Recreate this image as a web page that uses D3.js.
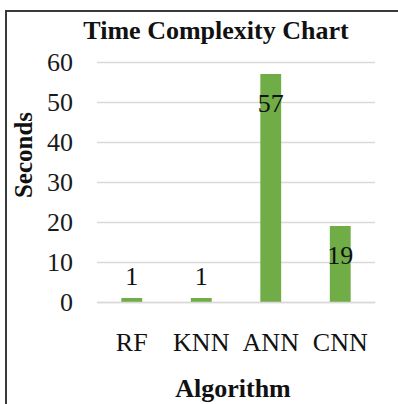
<!DOCTYPE html>
<html><head><meta charset="utf-8">
<script src="https://cdn.jsdelivr.net/npm/d3@7"></script>
<style>body{margin:0;background:#fff}svg{display:block}</style>
</head><body>
<svg id="c" width="398" height="404"></svg>
<script>
const categories = ["RF", "KNN", "ANN", "CNN"];
const seconds = [1, 1, 57, 19];
const yTicks = [0, 10, 20, 30, 40, 50, 60];
const title = "Time Complexity Chart";
const xTitle = "Algorithm";
const yTitle = "Seconds";

(function () {
const svg = d3.select("#c");
const font = "'Liberation Serif','Times New Roman',serif";
const pL = 97, pR = 375, pT = 62, pB = 302;
const fs = 26;

svg.append("rect").attr("x", 6).attr("y", 11).attr("width", 420).attr("height", 420)
  .attr("fill", "#fff").attr("stroke", "#3a3a3a").attr("stroke-width", 2);

const x = d3.scaleBand().domain(categories).range([pL, pR]).paddingInner(0.7).paddingOuter(0.35);
const y = d3.scaleLinear().domain([0, 60]).range([pB, pT]);

const yAxis = svg.append("g").attr("transform", `translate(${pL},0)`)
  .call(d3.axisLeft(y).tickValues(yTicks).tickSize(-(pR - pL)).tickPadding(24));
yAxis.select(".domain").remove();
yAxis.selectAll(".tick line").attr("stroke", "#d9d9d9").attr("stroke-width", 1.5);
yAxis.selectAll(".tick text").attr("font-family", font).attr("font-size", fs).attr("fill", "#1a1a1a");

svg.append("g").selectAll("rect").data(categories).join("rect")
  .attr("x", d => x(d)).attr("width", x.bandwidth())
  .attr("y", (d, i) => y(seconds[i])).attr("height", (d, i) => y(0) - y(seconds[i]))
  .attr("fill", "#70ad47");

svg.append("g").selectAll("text").data(categories).join("text")
  .attr("x", d => x(d) + x.bandwidth() / 2)
  .attr("y", (d, i) => {
    const h = y(0) - y(seconds[i]);
    return h > 40 ? y(seconds[i]) + 38 : y(seconds[i]) - 13;
  })
  .attr("text-anchor", "middle").attr("font-family", font).attr("font-size", fs).attr("fill", "#111")
  .text((d, i) => seconds[i]);

const xAxis = svg.append("g").attr("transform", `translate(0,${pB})`)
  .call(d3.axisBottom(x).tickSize(0).tickPadding(31));
xAxis.select(".domain").attr("stroke", "#d9d9d9").attr("stroke-width", 1.5);
xAxis.selectAll(".tick text").attr("font-family", font).attr("font-size", fs).attr("fill", "#111");

svg.append("text").attr("x", 216).attr("y", 39).attr("text-anchor", "middle")
  .attr("font-family", font).attr("font-weight", "bold").attr("font-size", fs).attr("fill", "#111")
  .text(title);
svg.append("text").attr("x", 233).attr("y", 397).attr("text-anchor", "middle")
  .attr("font-family", font).attr("font-weight", "bold").attr("font-size", fs).attr("fill", "#111")
  .text(xTitle);
svg.append("text").attr("transform", "translate(32,155) rotate(-90)").attr("text-anchor", "middle")
  .attr("font-family", font).attr("font-weight", "bold").attr("font-size", 25).attr("fill", "#111")
  .text(yTitle);
})();
</script>
</body></html>
